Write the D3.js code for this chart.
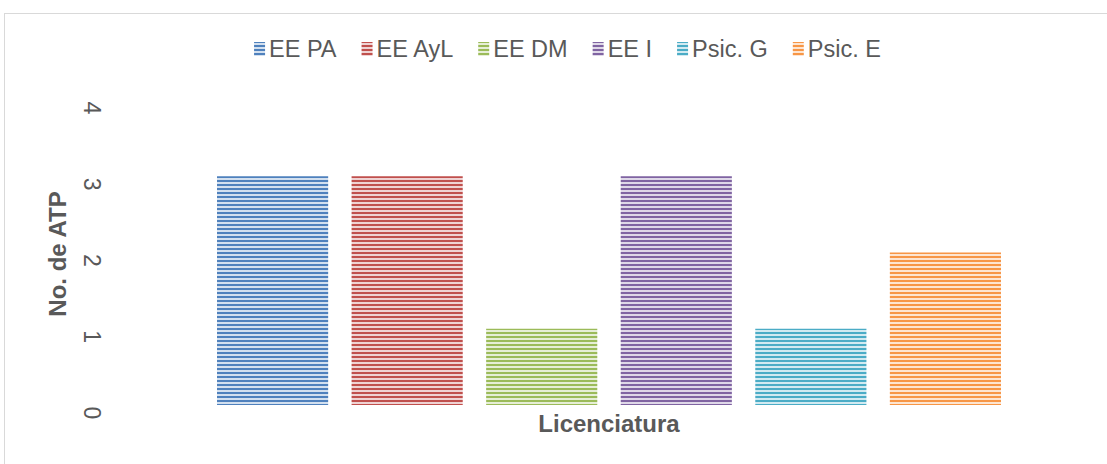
<!DOCTYPE html>
<html>
<head>
<meta charset="utf-8">
<script src="https://cdn.jsdelivr.net/npm/d3@7/dist/d3.min.js"></script>
<style>
  html, body { margin: 0; padding: 0; background: #fff; }
  svg { display: block; font-family: "Liberation Sans", Arial, sans-serif; }
</style>
</head>
<body>
<svg id="chart" width="1107" height="464"></svg>
<script>
// Number of ATP per degree programme
const series = ["EE PA", "EE AyL", "EE DM", "EE I", "Psic. G", "Psic. E"];
const values = [3, 3, 1, 3, 1, 2];
const colors = ["#4f81bd", "#c0504d", "#9bbb59", "#8064a2", "#4bacc6", "#f79646"];
const yTicks = [0, 1, 2, 3, 4];
const category = "Licenciatura";
const yTitle = "No. de ATP";

const svg = d3.select("#chart");
const textColor = "#595959";

// Outer frame (left and top edges visible)
svg.append("rect")
  .attr("x", 4.5).attr("y", 13.5)
  .attr("width", 1300).attr("height", 600)
  .attr("fill", "none").attr("stroke", "#d9d9d9").attr("stroke-width", 1);

// Horizontal stripe patterns per series
const defs = svg.append("defs");
colors.forEach((c, i) => {
  const light = d3.interpolateRgb(c, "#ffffff")(0.75);
  const p = defs.append("pattern")
    .attr("id", "stripe" + i)
    .attr("patternUnits", "userSpaceOnUse")
    .attr("width", 8).attr("height", 4);
  p.append("rect").attr("width", 8).attr("height", 4).attr("fill", light);
  p.append("rect").attr("width", 8).attr("height", 2).attr("fill", c);
});

const x = d3.scaleBand()
  .domain(series)
  .range([205.3, 1012.7])
  .paddingInner(0.174)
  .paddingOuter(0.087);

const y = d3.scaleLinear().domain([0, 4]).range([405, 100]);

// Bars
svg.append("g").selectAll("rect")
  .data(series)
  .join("rect")
  .attr("x", d => x(d))
  .attr("width", x.bandwidth())
  .attr("y", (d, i) => y(values[i]))
  .attr("height", (d, i) => y(0) - y(values[i]))
  .attr("fill", (d, i) => `url(#stripe${i})`);

// Y tick labels, rotated
svg.append("g").selectAll("text")
  .data(yTicks)
  .join("text")
  .attr("transform", d => `translate(92,${y(d) + 8}) rotate(90)`)
  .attr("text-anchor", "middle")
  .attr("dominant-baseline", "central")
  .attr("fill", textColor)
  .attr("font-size", 23)
  .text(d => d);

// Axis titles
svg.append("text")
  .attr("transform", "translate(57,254) rotate(-90)")
  .attr("text-anchor", "middle")
  .attr("dominant-baseline", "central")
  .attr("font-weight", "bold")
  .attr("font-size", 24)
  .attr("fill", textColor)
  .text(yTitle);

svg.append("text")
  .attr("x", 609).attr("y", 423)
  .attr("text-anchor", "middle")
  .attr("dominant-baseline", "central")
  .attr("font-weight", "bold")
  .attr("font-size", 24)
  .attr("fill", textColor)
  .text(category);

// Legend
const legend = svg.append("g");
let cx = 0;
const gap = 25;
series.forEach((s, i) => {
  const g = legend.append("g");
  g.append("rect")
    .attr("x", 0).attr("y", -7)
    .attr("width", 11).attr("height", 14)
    .attr("fill", `url(#stripe${i})`);
  const t = g.append("text")
    .attr("x", 15).attr("y", 0)
    .attr("dominant-baseline", "central")
    .attr("font-size", 23.5)
    .attr("fill", textColor)
    .text(s);
  const w = 15 + t.node().getComputedTextLength();
  g.attr("transform", `translate(${cx},0)`);
  cx += w + gap;
});
const total = cx - gap;
legend.attr("transform", `translate(${567.5 - total / 2},49)`);
</script>
</body>
</html>
